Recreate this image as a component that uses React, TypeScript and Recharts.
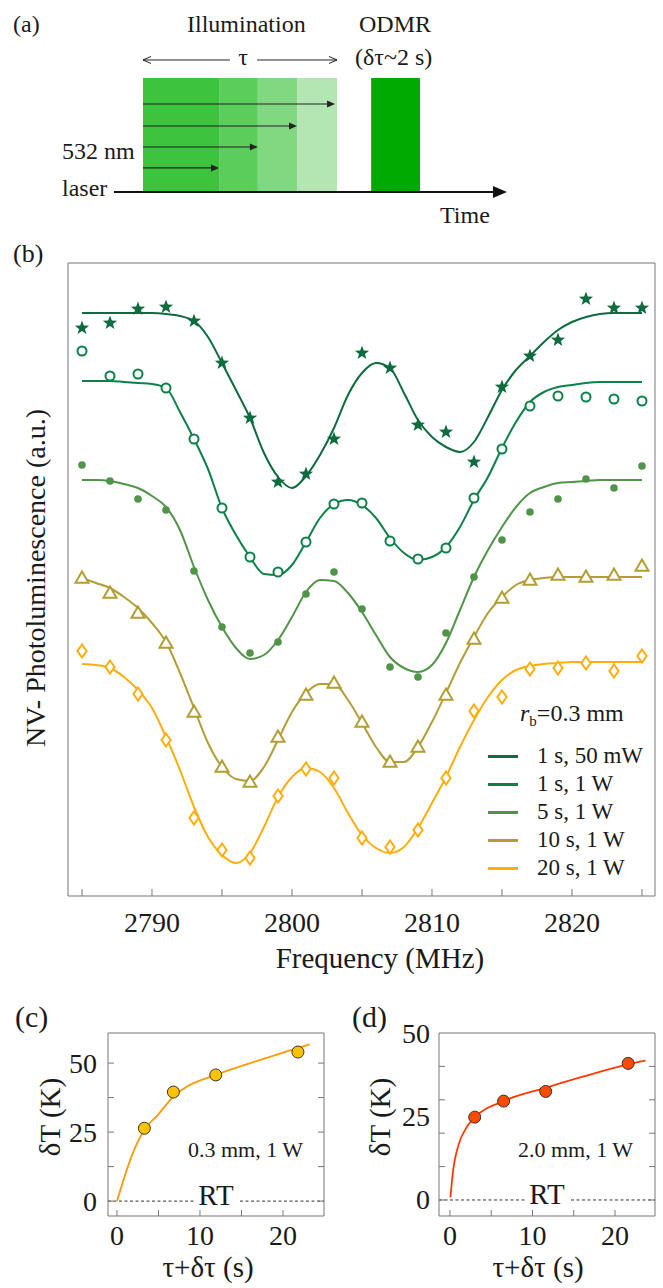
import React from "react";
import {
  ComposedChart,
  Line,
  Scatter,
  XAxis,
  YAxis,
  ReferenceArea,
  ReferenceLine,
  Legend,
} from "recharts";

const FONT = '"Liberation Serif", "Times New Roman", serif';
const INK = "#1a1a1a";
const AXIS = "#777";

// ---------- (a) timing scheme (schematic time units) ----------
const stageEdges = [0, 1.96, 2.96, 3.97, 5.0];
const stageColors = ["#3dc33d", "#5bcd5b", "#81d881", "#b3e6b3"];
const pulseEnds = [1.96, 2.96, 3.97, 4.95];
const pulseLevels = [0.211, 0.395, 0.579, 0.772];
const odmrWindow = [5.88, 7.14];

// ---------- (b) ODMR spectra ----------
const freqs = [2785, 2787, 2789, 2791, 2793, 2795, 2797, 2799, 2801, 2803, 2805, 2807, 2809, 2811, 2813, 2815, 2817, 2819, 2821, 2823, 2825];
const pl1s50mW = [5.68, 5.73, 5.87, 5.89, 5.75, 5.33, 4.78, 4.14, 4.22, 4.57, 5.43, 5.28, 4.71, 4.64, 4.34, 5.09, 5.4, 5.56, 5.97, 5.88, 5.88];
const pl1s1W = [5.45, 5.2, 5.22, 5.08, 4.57, 3.88, 3.39, 3.24, 3.54, 3.92, 3.93, 3.55, 3.37, 3.48, 3.98, 4.47, 4.9, 5.0, 4.99, 4.97, 4.95];
const pl5s1W = [4.31, 4.15, 3.97, 3.86, 3.25, 2.69, 2.43, 2.54, 3.02, 3.24, 2.87, 2.29, 2.19, 2.63, 3.19, 3.56, 3.84, 3.97, 4.17, 4.08, 4.3];
const pl10s1W = [3.18, 3.03, 2.83, 2.53, 1.84, 1.29, 1.14, 1.59, 2.01, 2.13, 1.74, 1.34, 1.49, 2.01, 2.57, 2.98, 3.16, 3.21, 3.19, 3.21, 3.3];
const pl20s1W = [2.45, 2.29, 2.02, 1.56, 0.78, 0.46, 0.38, 1.0, 1.27, 1.18, 0.58, 0.49, 0.66, 1.18, 1.85, 1.99, 2.27, 2.28, 2.33, 2.25, 2.4];

const fitFreqs = [2785, 2786, 2787, 2788, 2789, 2790, 2791, 2792, 2793, 2794, 2795, 2796, 2797, 2798, 2799, 2800, 2801, 2802, 2803, 2804, 2805, 2806, 2807, 2808, 2809, 2810, 2811, 2812, 2813, 2814, 2815, 2816, 2817, 2818, 2819, 2820, 2821, 2822, 2823, 2824, 2825];
const fit1s50mW = [5.83, 5.83, 5.83, 5.83, 5.83, 5.83, 5.82, 5.8, 5.75, 5.59, 5.33, 5.06, 4.78, 4.43, 4.19, 4.08, 4.2, 4.41, 4.68, 5.01, 5.23, 5.33, 5.28, 5.03, 4.76, 4.59, 4.49, 4.44, 4.54, 4.79, 5.06, 5.26, 5.4, 5.54, 5.66, 5.74, 5.79, 5.82, 5.83, 5.83, 5.83];
const fit1s1W = [5.15, 5.15, 5.15, 5.14, 5.13, 5.12, 5.08, 4.84, 4.57, 4.27, 3.88, 3.61, 3.39, 3.22, 3.21, 3.31, 3.54, 3.78, 3.92, 3.96, 3.91, 3.78, 3.58, 3.43, 3.36, 3.39, 3.49, 3.69, 3.96, 4.19, 4.48, 4.74, 4.94, 5.04, 5.09, 5.11, 5.13, 5.14, 5.14, 5.14, 5.14];
const fit5s1W = [4.16, 4.16, 4.15, 4.12, 4.08, 4.0, 3.89, 3.66, 3.29, 2.96, 2.69, 2.48, 2.37, 2.41, 2.56, 2.79, 3.04, 3.16, 3.15, 3.03, 2.84, 2.61, 2.39, 2.28, 2.24, 2.31, 2.53, 2.86, 3.19, 3.46, 3.69, 3.89, 4.03, 4.09, 4.13, 4.14, 4.15, 4.16, 4.16, 4.16, 4.16];
const fit10s1W = [3.18, 3.13, 3.08, 2.99, 2.88, 2.73, 2.54, 2.23, 1.88, 1.53, 1.29, 1.17, 1.15, 1.29, 1.56, 1.84, 2.03, 2.12, 2.12, 1.96, 1.73, 1.49, 1.34, 1.34, 1.49, 1.74, 2.03, 2.33, 2.59, 2.83, 2.99, 3.11, 3.16, 3.18, 3.19, 3.19, 3.19, 3.19, 3.19, 3.19, 3.19];
const fit20s1W = [2.32, 2.31, 2.28, 2.19, 2.06, 1.88, 1.59, 1.26, 0.89, 0.59, 0.41, 0.33, 0.43, 0.69, 0.99, 1.19, 1.28, 1.24, 1.08, 0.83, 0.61, 0.48, 0.43, 0.49, 0.68, 0.93, 1.19, 1.49, 1.76, 1.99, 2.16, 2.26, 2.3, 2.32, 2.33, 2.34, 2.34, 2.34, 2.34, 2.34, 2.34];

const freqTicks = [2785, 2790, 2795, 2800, 2805, 2810, 2815, 2820, 2825];
const seriesNames = ["1 s, 50 mW", "1 s, 1 W", "5 s, 1 W", "10 s, 1 W", "20 s, 1 W"];
const seriesColors = ["#0e6b3f", "#0b8048", "#4f9447", "#b39d35", "#ffad0a"];

// ---------- (c), (d) heating ----------
const timesC = [3.3, 6.8, 11.9, 21.8];
const dT03mm = [26.4, 39.5, 45.7, 54.0];
const fitTimesC = [0, 1.9, 3.4, 4.8, 6.8, 8.4, 11.9, 17.2, 23.2];
const fitDT03mm = [0, 17.3, 26.3, 30.8, 37.8, 41.4, 45.7, 51.1, 56.8];

const timesD = [3.0, 6.5, 11.6, 21.6];
const dT20mm = [24.8, 29.6, 32.5, 40.9];
const fitTimesD = [0.05, 0.4, 1, 2, 3, 6.5, 11.6, 16.2, 21.6, 23.7];
const fitDT20mm = [0.8, 9.2, 16.2, 21.7, 24.7, 29.6, 33.6, 37.0, 40.6, 41.7];

const timeTicks = [0, 5, 10, 15, 20];

const toPts = (xs: number[], ys: number[], k: string) => xs.map((x, i) => ({ [k]: x, v: ys[i] }));

// ---------- marker shapes ----------
const starShape = (color: string) => (p: any) => {
  const pts: string[] = [];
  for (let k = 0; k < 10; k++) {
    const r = k % 2 === 0 ? 7.5 : 3.1;
    const a = -Math.PI / 2 + (k * Math.PI) / 5;
    pts.push(`${p.cx + r * Math.cos(a)},${p.cy + r * Math.sin(a)}`);
  }
  return <polygon points={pts.join(" ")} fill={color} />;
};
const ringShape = (color: string) => (p: any) => (
  <circle cx={p.cx} cy={p.cy} r={4.5} fill="#fff" stroke={color} strokeWidth={2} />
);
const dotShape = (color: string) => (p: any) => <circle cx={p.cx} cy={p.cy} r={3.8} fill={color} />;
const triShape = (color: string) => (p: any) => (
  <polygon
    points={`${p.cx},${p.cy - 6.5} ${p.cx + 6.5},${p.cy + 4.8} ${p.cx - 6.5},${p.cy + 4.8}`}
    fill="#fff"
    stroke={color}
    strokeWidth={2}
  />
);
const diamondShape = (color: string) => (p: any) => (
  <polygon
    points={`${p.cx},${p.cy - 6.5} ${p.cx + 4.6},${p.cy} ${p.cx},${p.cy + 6.5} ${p.cx - 4.6},${p.cy}`}
    fill="#fff"
    stroke={color}
    strokeWidth={2}
  />
);
const shapes = [starShape, ringShape, dotShape, triShape, diamondShape];

const arrowShape = (len: number, wid: number, color: string, sw: number, open = false) => (p: any) => {
  const { x1, y1, x2, y2 } = p;
  const ang = Math.atan2(y2 - y1, x2 - x1);
  const bx = x2 - len * Math.cos(ang);
  const by = y2 - len * Math.sin(ang);
  const nx = (-Math.sin(ang) * wid) / 2;
  const ny = (Math.cos(ang) * wid) / 2;
  return (
    <g>
      <line x1={x1} y1={y1} x2={open ? x2 : bx} y2={open ? y2 : by} stroke={color} strokeWidth={sw} />
      {open ? (
        <polyline points={`${bx + nx},${by + ny} ${x2},${y2} ${bx - nx},${by - ny}`} fill="none" stroke={color} strokeWidth={sw} />
      ) : (
        <polygon points={`${x2},${y2} ${bx + nx},${by + ny} ${bx - nx},${by - ny}`} fill={color} />
      )}
    </g>
  );
};

// arrowhead marker for the laser pulses (tip sits on the data point)
const headShape = (p: any) => (
  <polygon points={`${p.cx},${p.cy} ${p.cx - 8},${p.cy - 3.5} ${p.cx - 8},${p.cy + 3.5}`} fill="#222" />
);

function SchemeA() {
  const tips = pulseEnds.map((e, i) => ({ x: e, y: pulseLevels[i] }));
  return (
    <ComposedChart width={663} height={230} data={tips} margin={{ top: 0, right: 0, bottom: 0, left: 0 }}>
      <XAxis type="number" dataKey="x" hide domain={[-3.686, 13.402]} allowDataOverflow />
      <YAxis type="number" dataKey="y" hide domain={[-0.333, 1.684]} allowDataOverflow />
      {stageColors.map((c, i) => (
        <ReferenceArea key={c} x1={stageEdges[i]} x2={stageEdges[i + 1]} y1={0} y2={1} fill={c} fillOpacity={1} stroke="none" />
      ))}
      <ReferenceArea x1={odmrWindow[0]} x2={odmrWindow[1]} y1={0} y2={1} fill="#00aa00" fillOpacity={1} stroke="none" />
      {pulseEnds.map((e, i) => (
        <ReferenceLine
          key={e}
          segment={[{ x: 0, y: pulseLevels[i] }, { x: e - 0.18, y: pulseLevels[i] }]}
          stroke="#222"
          strokeWidth={1.2}
        />
      ))}
      <ReferenceLine segment={[{ x: 2.24, y: 1.158 }, { x: 0, y: 1.158 }]} shape={arrowShape(8, 7, "#222", 1, true)} />
      <ReferenceLine segment={[{ x: 2.94, y: 1.158 }, { x: 5.0, y: 1.158 }]} shape={arrowShape(8, 7, "#222", 1, true)} />
      <ReferenceLine segment={[{ x: -0.747, y: 0 }, { x: 9.38, y: 0 }]} shape={arrowShape(14, 12, "#111", 2)} />
      <Scatter data={tips} dataKey="y" shape={headShape} isAnimationActive={false} legendType="none" />
    </ComposedChart>
  );
}

function PanelBLegend() {
  return (
    <div style={{ position: "relative", width: 180, height: 190, fontFamily: FONT, color: INK }}>
      <div style={{ position: "absolute", left: 40, top: 4, fontSize: 24, lineHeight: "28px", whiteSpace: "nowrap" }}>
        <i>r</i>
        <sub style={{ fontSize: 15, verticalAlign: "-5px" }}>b</sub>=0.3 mm
      </div>
      {seriesNames.map((n, i) => (
        <div
          key={n}
          style={{ position: "absolute", left: 0, top: 47 + i * 28, height: 28, display: "flex", alignItems: "center" }}
        >
          <span style={{ display: "inline-block", width: 30, height: 3, background: seriesColors[i], marginLeft: 8, marginRight: 19 }} />
          <span style={{ fontSize: 23, whiteSpace: "nowrap" }}>{n}</span>
        </div>
      ))}
    </div>
  );
}

function SpectraB() {
  const fits = [fit1s50mW, fit1s1W, fit5s1W, fit10s1W, fit20s1W];
  const meas = [pl1s50mW, pl1s1W, pl5s1W, pl10s1W, pl20s1W];
  const tickStyle = { fontFamily: FONT, fontSize: 28, fill: INK };
  return (
    <ComposedChart width={663} height={720} margin={{ top: 32, right: 7, bottom: 0, left: 67 }}>
      <XAxis
        type="number"
        dataKey="f"
        domain={[2784, 2825.93]}
        allowDataOverflow
        ticks={freqTicks}
        interval={0}
        tickFormatter={(v: number) => (v % 10 === 0 ? String(v) : "")}
        tickSize={-7}
        tickMargin={23}
        height={54}
        axisLine={{ stroke: AXIS }}
        tickLine={{ stroke: AXIS }}
        tick={tickStyle}
      />
      <XAxis
        xAxisId="top"
        orientation="top"
        type="number"
        domain={[2784, 2825.93]}
        allowDataOverflow
        ticks={freqTicks}
        interval={0}
        tickFormatter={() => ""}
        tickSize={-7}
        height={1}
        axisLine={{ stroke: AXIS }}
        tickLine={{ stroke: AXIS }}
      />
      <YAxis type="number" dataKey="v" domain={[0, 6.33]} allowDataOverflow width={1} tick={false} tickLine={false} axisLine={{ stroke: AXIS }} />
      <YAxis yAxisId="right" orientation="right" type="number" domain={[0, 6.33]} allowDataOverflow width={1} tick={false} tickLine={false} axisLine={{ stroke: AXIS }} />
      {fits.map((f, i) => (
        <Line
          key={seriesNames[i]}
          name={seriesNames[i]}
          data={toPts(fitFreqs, f, "f")}
          dataKey="v"
          type="monotone"
          stroke={seriesColors[i]}
          strokeWidth={2}
          dot={false}
          activeDot={false}
          isAnimationActive={false}
        />
      ))}
      {meas.map((m, i) => (
        <Scatter
          key={"m" + i}
          data={toPts(freqs, m, "f")}
          dataKey="v"
          shape={shapes[i](seriesColors[i])}
          legendType="none"
          isAnimationActive={false}
        />
      ))}
      <Legend
        layout="vertical"
        align="center"
        verticalAlign="middle"
        content={() => <PanelBLegend />}
        wrapperStyle={{ left: 480, top: 465, width: 180, height: 190 }}
      />
    </ComposedChart>
  );
}

type HeatProps = {
  width: number;
  marginLeft: number;
  marginRight: number;
  xDomain: [number, number];
  yDomain: [number, number];
  pts: { t: number; v: number }[];
  fit: { t: number; v: number }[];
  dotColor: string;
  lineColor: string;
  yMarks: number[];
  yLabels: number[];
  labelGap: number;
};

function HeatPanel(props: HeatProps) {
  const { width, marginLeft, marginRight, xDomain, yDomain, pts, fit, dotColor, lineColor, yMarks, yLabels, labelGap } = props;
  const yTicks = Array.from(new Set([...yMarks, ...yLabels])).sort((a, b) => a - b);
  const yTick = (p: any) => {
    const v = p.payload.value;
    const x0 = p.x + labelGap;
    return (
      <g>
        {yMarks.includes(v) && <line x1={x0} y1={p.y} x2={x0 + 6} y2={p.y} stroke={AXIS} />}
        {yLabels.includes(v) && (
          <text x={p.x} y={p.y} textAnchor="end" dominantBaseline="central" fontSize={28} fontFamily={FONT} fill={INK}>
            {v}
          </text>
        )}
      </g>
    );
  };
  const rtLabel = (p: any) => {
    const vb = p.viewBox || {};
    const cx = vb.x + vb.width / 2;
    return (
      <g>
        <rect x={cx - 22} y={vb.y - 4} width={44} height={8} fill="#fff" />
        <text x={cx} y={vb.y + 4} textAnchor="middle" fontSize={29} fontFamily={FONT} fill={INK}>
          RT
        </text>
      </g>
    );
  };
  return (
    <ComposedChart width={width} height={288} margin={{ top: 32, right: marginRight - 1, bottom: 0, left: marginLeft }}>
      <XAxis
        type="number"
        dataKey="t"
        domain={xDomain}
        allowDataOverflow
        ticks={timeTicks}
        interval={0}
        tickFormatter={(v: number) => (v % 10 === 0 ? String(v) : "")}
        tickSize={-6}
        tickMargin={15}
        height={72}
        axisLine={{ stroke: AXIS }}
        tickLine={{ stroke: AXIS }}
        tick={{ fontFamily: FONT, fontSize: 28, fill: INK }}
      />
      <XAxis
        xAxisId="top"
        orientation="top"
        type="number"
        domain={xDomain}
        allowDataOverflow
        ticks={timeTicks}
        interval={0}
        tickFormatter={() => ""}
        tickSize={-6}
        height={1}
        axisLine={{ stroke: AXIS }}
        tickLine={{ stroke: AXIS }}
      />
      <YAxis
        type="number"
        dataKey="v"
        domain={yDomain}
        allowDataOverflow
        ticks={yTicks}
        interval={0}
        tick={yTick}
        tickLine={false}
        tickSize={0}
        tickMargin={labelGap}
        width={60}
        axisLine={{ stroke: AXIS }}
      />
      <YAxis
        yAxisId="right"
        orientation="right"
        type="number"
        domain={yDomain}
        allowDataOverflow
        ticks={yMarks}
        interval={0}
        tickFormatter={() => ""}
        tickSize={-6}
        width={1}
        axisLine={{ stroke: AXIS }}
        tickLine={{ stroke: AXIS }}
      />
      <ReferenceLine y={0} stroke="#333" strokeDasharray="3 2.5" label={rtLabel} />
      <Line data={fit} dataKey="v" type="monotone" stroke={lineColor} strokeWidth={1.8} dot={false} activeDot={false} isAnimationActive={false} />
      <Scatter
        data={pts}
        dataKey="v"
        isAnimationActive={false}
        shape={(p: any) => <circle cx={p.cx} cy={p.cy} r={6} fill={dotColor} stroke="#333" strokeWidth={1} />}
      />
    </ComposedChart>
  );
}

function Txt(props: { x: number; y: number; size: number; anchor?: "start" | "middle" | "end"; rotate?: boolean; children: React.ReactNode }) {
  const { x, y, size, anchor = "start", rotate, children } = props;
  return (
    <text
      x={x}
      y={y}
      fontSize={size}
      fontFamily={FONT}
      fill={INK}
      textAnchor={rotate ? "middle" : anchor}
      dominantBaseline={rotate ? "central" : undefined}
      transform={rotate ? `rotate(-90 ${x} ${y})` : undefined}
    >
      {children}
    </text>
  );
}

export default function App() {
  return (
    <div style={{ position: "absolute", left: 0, top: 0, width: 663, height: 1288, background: "#fff", overflow: "hidden" }}>
      <div style={{ position: "absolute", left: 0, top: 0 }}>
        <SchemeA />
      </div>
      <div style={{ position: "absolute", left: 0, top: 230 }}>
        <SpectraB />
      </div>
      <div style={{ position: "absolute", left: 0, top: 1000 }}>
        <HeatPanel
          width={340}
          marginLeft={48}
          marginRight={16}
          xDomain={[-1.08, 24.94]}
          yDomain={[-5.4, 60.9]}
          pts={toPts(timesC, dT03mm, "t") as any}
          fit={toPts(fitTimesC, fitDT03mm, "t") as any}
          dotColor="#fcc200"
          lineColor="#ff9a00"
          yMarks={[0, 12.5, 25, 37.5, 50]}
          yLabels={[0, 25, 50]}
          labelGap={11}
        />
      </div>
      <div style={{ position: "absolute", left: 330, top: 1000 }}>
        <HeatPanel
          width={333}
          marginLeft={49}
          marginRight={8}
          xDomain={[-1.33, 24.85]}
          yDomain={[-4.8, 50]}
          pts={toPts(timesD, dT20mm, "t") as any}
          fit={toPts(fitTimesD, fitDT20mm, "t") as any}
          dotColor="#ff4a00"
          lineColor="#ff3a00"
          yMarks={[0, 10, 20, 30, 40]}
          yLabels={[0, 25, 50]}
          labelGap={9}
        />
      </div>
      <svg width={663} height={1288} style={{ position: "absolute", left: 0, top: 0, pointerEvents: "none" }}>
        <Txt x={13} y={32} size={24}>(a)</Txt>
        <Txt x={187} y={32} size={24}>Illumination</Txt>
        <Txt x={359} y={32} size={24}>ODMR</Txt>
        <Txt x={355} y={65} size={24}>(δτ~2 s)</Txt>
        <Txt x={243} y={65} size={24} anchor="middle">τ</Txt>
        <Txt x={62} y={159} size={24}>532 nm</Txt>
        <Txt x={62} y={196} size={24}>laser</Txt>
        <Txt x={440} y={223} size={24}>Time</Txt>

        <Txt x={13} y={262} size={26}>(b)</Txt>
        <Txt x={380} y={968} size={29} anchor="middle">Frequency (MHz)</Txt>
        <Txt x={35} y={578} size={28} rotate>NV- Photoluminescence (a.u.)</Txt>

        <Txt x={15} y={1027} size={30}>(c)</Txt>
        <Txt x={50} y={1117} size={29} rotate>δT (K)</Txt>
        <Txt x={208} y={1277} size={29} anchor="middle">τ+δτ (s)</Txt>
        <Txt x={188} y={1157} size={22}>0.3 mm, 1 W</Txt>

        <Txt x={352} y={1027} size={30}>(d)</Txt>
        <Txt x={380} y={1117} size={29} rotate>δT (K)</Txt>
        <Txt x={538} y={1277} size={29} anchor="middle">τ+δτ (s)</Txt>
        <Txt x={518} y={1157} size={22}>2.0 mm, 1 W</Txt>
      </svg>
    </div>
  );
}
